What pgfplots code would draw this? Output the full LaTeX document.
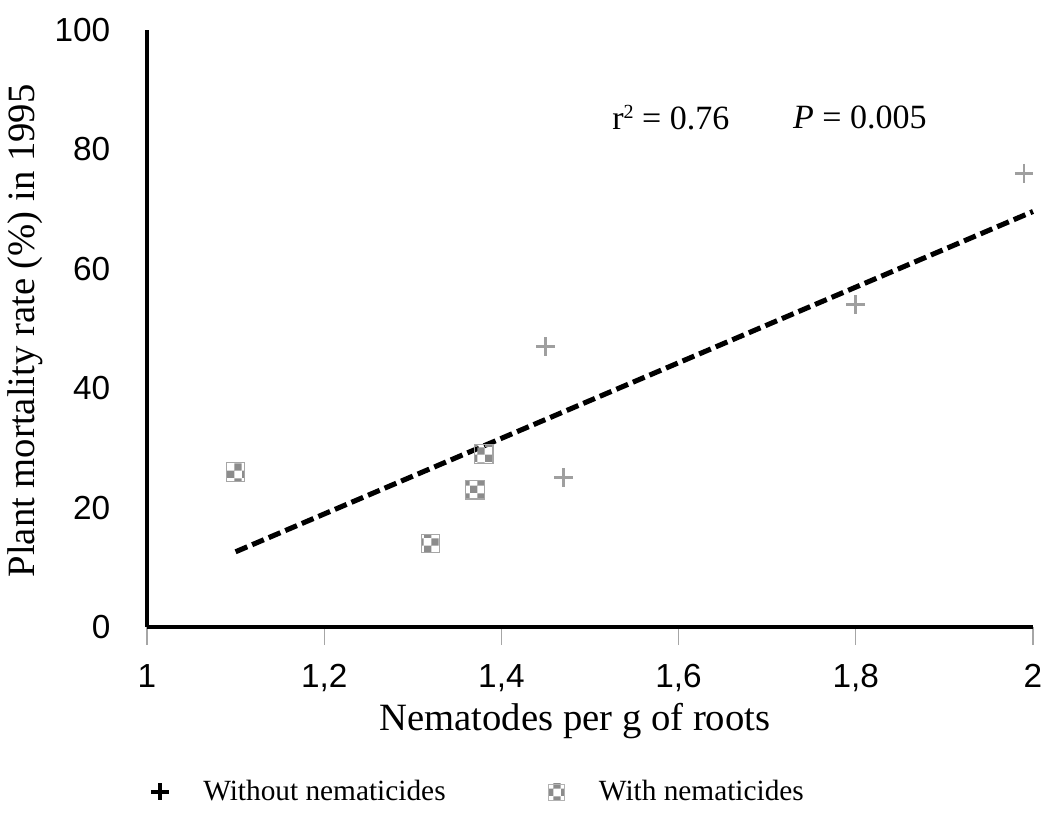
\documentclass[border=0pt]{standalone}
\usepackage{fontspec}
\setmainfont{Liberation Serif}
\newfontfamily\arial{Liberation Sans}
\usepackage{pgfplots}
\pgfplotsset{compat=1.18}
\usetikzlibrary{patterns}
\begin{document}
\begin{tikzpicture}
\useasboundingbox (-110.25pt,-149.25pt) rectangle (674.25pt,470.25pt);
\begin{axis}[
  at={(0,0)}, anchor=south west,
  width=664.5pt, height=447.75pt, scale only axis,
  xmin=1, xmax=2, ymin=0, ymax=100,
  clip=false,
  axis x line=bottom, axis y line=left,
  axis line style={line width=3.6pt, -},
  xtick={1,1.2,1.4,1.6,1.8,2},
  xticklabels={1,{1,2},{1,4},{1,6},{1,8},2},
  ytick={0,20,40,60,80,100},
  yticklabels={0,20,40,60,80,100},
  tick align=outside,
  major tick length=13.5pt,
  xtick style={gray!70, line width=0.8pt},
  ytick style={draw=none},
  tick label style={font=\arial\fontsize{25}{28}\selectfont},
  xticklabel style={yshift=-11pt},
  yticklabel style={xshift=-10.5pt},
  xlabel={Nematodes per g of roots},
  ylabel={Plant mortality rate (\%) in 1995},
  label style={font=\fontsize{29}{34}\selectfont},
  xlabel style={at={(axis description cs:0.483,-0.157)}, anchor=center},
  ylabel style={at={(axis description cs:-0.1377,0.496)}, anchor=center},
  legend columns=2,
  legend style={draw=none, fill=none, font=\fontsize{22}{26}\selectfont,
    at={(axis description cs:0.0,-0.276)}, anchor=west,
    /tikz/every odd column/.append style={column sep=24pt},
    /tikz/every even column/.append style={column sep=75pt}},
  legend cell align=left,
]
\addlegendimage{only marks, mark=+, black, line width=3.2pt, mark size=6.5pt}
\addlegendentry{Without nematicides}
\addlegendimage{only marks, mark=square*, mark size=6pt, mark options={draw=gray!60, pattern=checkerboard, pattern color=gray!90}}
\addlegendentry{With nematicides}

\addplot[only marks, mark=+, gray!75, line width=2pt, mark size=7pt, forget plot]
  coordinates {(1.45,47) (1.47,25) (1.80,54) (1.99,76)};
\addplot[only marks, mark=square*, mark size=7pt, forget plot,
  mark options={draw=gray!70, line width=0.8pt, pattern=checkerboard, pattern color=gray!90}]
  coordinates {(1.10,26) (1.32,14) (1.37,23) (1.38,29)};
\addplot[black, line width=3.8pt, dash pattern=on 9.5pt off 4pt, forget plot]
  coordinates {(1.10,12.6) (2.0,69.6)};
\node[anchor=west, inner sep=0pt, font=\fontsize{25.5}{30}\selectfont] at (axis cs:1.525,85.4) {r\raisebox{0.7ex}{\fontsize{15}{18}\selectfont 2} = 0.76};
\node[anchor=west, inner sep=0pt, font=\fontsize{25.5}{30}\selectfont] at (axis cs:1.729,85.4) {\textit{P} = 0.005};
\end{axis}
\end{tikzpicture}
\end{document}
